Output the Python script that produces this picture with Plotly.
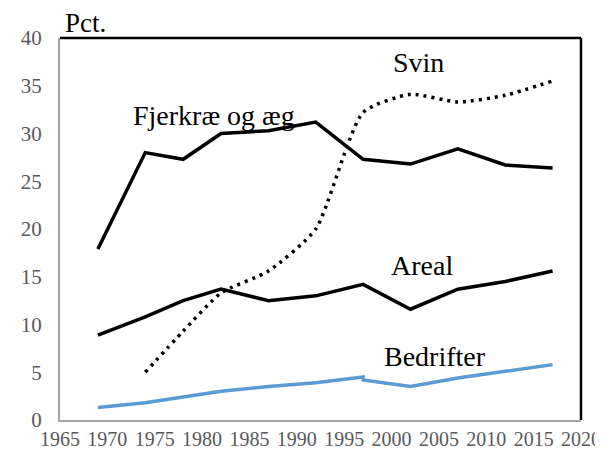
import plotly.graph_objects as go

years = [1969, 1974, 1978, 1982, 1987, 1992, 1997, 2002, 2007, 2012, 2017]
fjerkrae = [17.9, 28.0, 27.3, 30.0, 30.3, 31.2, 27.3, 26.8, 28.4, 26.7, 26.4]
svin_years = [1974, 1978, 1982, 1987, 1992, 1997, 2002, 2007, 2012, 2017]
svin = [5.0, 9.3, 13.3, 15.6, 20.0, 32.2, 34.1, 33.3, 34.0, 35.5]
areal = [8.9, 10.8, 12.5, 13.7, 12.5, 13.0, 14.2, 11.6, 13.7, 14.5, 15.6]
bedrifter_years = [1969, 1974, 1978, 1982, 1987, 1992, 1997, 1997, 2002, 2007, 2012, 2017]
bedrifter = [1.3, 1.8, 2.4, 3.0, 3.5, 3.9, 4.5, 4.2, 3.5, 4.4, 5.1, 5.8]

x_ticks = list(range(1965, 2021, 5))
y_ticks = list(range(0, 41, 5))

serif = "Liberation Serif"

fig = go.Figure()
fig.add_trace(go.Scatter(x=years, y=fjerkrae, mode="lines",
                         line=dict(color="black", width=3.5)))
fig.add_trace(go.Scatter(x=svin_years, y=svin, mode="lines",
                         line=dict(color="black", width=3.5, dash="3px,5px", shape="spline", smoothing=0.6)))
fig.add_trace(go.Scatter(x=years, y=areal, mode="lines",
                         line=dict(color="black", width=3.5)))
fig.add_trace(go.Scatter(x=bedrifter_years, y=bedrifter, mode="lines",
                         line=dict(color="#5B9BD5", width=3.5)))

fig.update_layout(
    width=595, height=445,
    margin=dict(l=52, r=22, t=30, b=33, autoexpand=False),
    paper_bgcolor="white", plot_bgcolor="white",
    showlegend=False,
    font=dict(family=serif, color="#595959", size=20),
    xaxis=dict(range=[1965, 2020], tickvals=x_ticks, showgrid=False, zeroline=False,
               showline=True, linecolor="#A6A6A6", linewidth=2, ticks="", automargin=False,
               tickfont=dict(family=serif, size=20, color="#595959")),
    yaxis=dict(range=[0, 40], tickvals=y_ticks, showgrid=False, zeroline=False,
               showline=True, linecolor="#A6A6A6", linewidth=2, ticks="", automargin=False,
               tickfont=dict(family=serif, size=21, color="#595959"), ticklabelstandoff=12),
)

# top and right black borders
fig.add_shape(type="line", xref="x domain", yref="y domain", x0=0, x1=1, y0=1, y1=1,
              line=dict(color="black", width=2.5))
fig.add_shape(type="line", xref="x domain", yref="y domain", x0=1, x1=1, y0=0, y1=1,
              line=dict(color="black", width=2.5))

labels = [
    ("Svin", 2002.8, 37.4),
    ("Fjerkræ og æg", 1981.3, 31.9),
    ("Areal", 2003.2, 16.2),
    ("Bedrifter", 2004.6, 6.6),
]
for text, ax, ay in labels:
    fig.add_annotation(x=ax, y=ay, text=text, showarrow=False,
                       xanchor="center", yanchor="middle",
                       font=dict(family=serif, size=28, color="black"))

fig.add_annotation(xref="paper", yref="paper", x=0.048, y=1.039, text="Pct.",
                   xanchor="center", yanchor="middle",
                   showarrow=False, font=dict(family=serif, size=27, color="black"))

fig.write_html("out.html")
